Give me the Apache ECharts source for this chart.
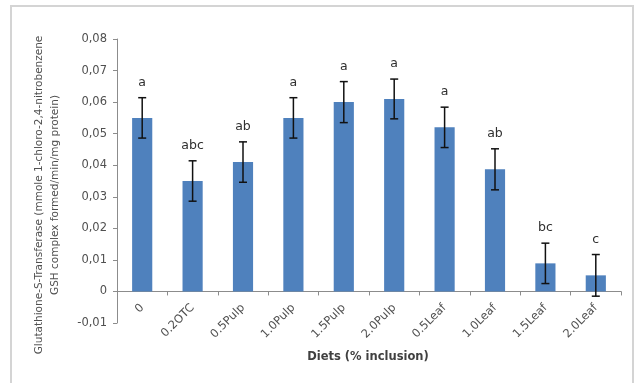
<!DOCTYPE html>
<html><head><meta charset="utf-8">
<script src="https://cdn.jsdelivr.net/npm/echarts@6/dist/echarts.min.js"></script>
<style>html,body{margin:0;padding:0;background:#fff}#frame{position:absolute;left:10px;top:5px;width:624px;height:385px;border:2px solid #d4d4d4;box-sizing:border-box}#c{position:absolute;left:0;top:0;width:639px;height:383px}</style>
</head><body><div id="frame"></div><div id="c"></div>
<script>
const categories = ['0','0.2OTC','0.5Pulp','1.0Pulp','1.5Pulp','2.0Pulp','0.5Leaf','1.0Leaf','1.5Leaf','2.0Leaf'];
const means = [0.055, 0.035, 0.041, 0.055, 0.060, 0.061, 0.052, 0.0387, 0.0089, 0.0051];
const errors = [0.0064, 0.0064, 0.0064, 0.0064, 0.0065, 0.0063, 0.0064, 0.0065, 0.0064, 0.0066];
const letters = ['a','abc','ab','a','a','a','a','ab','bc','c'];
const yTicks = [-0.01, 0, 0.01, 0.02, 0.03, 0.04, 0.05, 0.06, 0.07, 0.08];
const xTitle = 'Diets (% inclusion)';
const yTitle = 'Glutathione-S-Transferase (mmole 1-chloro-2,4-nitrobenzene\nGSH complex formed/min/mg protein)';

const FONT = '"DejaVu Sans", sans-serif';
const chart = echarts.init(document.getElementById('c'));
chart.setOption({
  animation: false,
  backgroundColor: 'transparent',
  grid: {left: 117, right: 18, top: 39, bottom: 60, outerBoundsMode: 'none', containLabel: false},
  xAxis: {
    type: 'category', data: categories,
    axisLine: {onZero: true, lineStyle: {color: '#8c8c8c', width: 1}},
    axisTick: {show: true, length: 4, lineStyle: {color: '#8c8c8c'}},
    axisLabel: {rotate: 45, fontSize: 11.5, color: '#505050', fontFamily: FONT, margin: -17}
  },
  yAxis: {
    type: 'value', min: -0.01, max: 0.08, interval: 0.01,
    splitLine: {show: false},
    axisLine: {show: true, lineStyle: {color: '#8c8c8c'}},
    axisTick: {show: true, length: 4, lineStyle: {color: '#8c8c8c'}},
    axisLabel: {fontSize: 11.5, color: '#505050', fontFamily: FONT, margin: 10,
      formatter: v => {
        const t = yTicks.find(x => Math.abs(x - v) < 1e-9);
        if (t === undefined) return '';
        return t === 0 ? '0' : t.toFixed(2).replace('.', ',');
      }}
  },
  graphic: [{
    type: 'text', x: 47, y: 195, rotation: Math.PI / 2,
    style: {text: yTitle, align: 'center', verticalAlign: 'middle', fontSize: 10.5, lineHeight: 16, fill: '#505050', fontFamily: FONT}
  }, {
    type: 'text', x: 368, y: 357,
    style: {text: xTitle, align: 'center', verticalAlign: 'middle', fontSize: 11.5, fontWeight: 'bold', fill: '#404040', fontFamily: FONT}
  }],
  series: [{
    type: 'bar', data: means, barWidth: '40%',
    itemStyle: {color: '#4F81BD'}
  }, {
    type: 'custom',
    data: means.map((m, i) => [i, m, errors[i]]),
    renderItem: (params, api) => {
      const i = api.value(0), m = api.value(1), e = api.value(2);
      const top = api.coord([i, m + e]);
      const bot = api.coord([i, m - e]);
      const x = top[0], cw = 4;
      return {type: 'group', children: [
        {type: 'line', shape: {x1: x, y1: top[1], x2: x, y2: bot[1]}, style: {stroke: '#111', lineWidth: 1.5}},
        {type: 'line', shape: {x1: x - cw, y1: top[1], x2: x + cw, y2: top[1]}, style: {stroke: '#111', lineWidth: 1.5}},
        {type: 'line', shape: {x1: x - cw, y1: bot[1], x2: x + cw, y2: bot[1]}, style: {stroke: '#111', lineWidth: 1.5}},
        {type: 'text', x: x, y: top[1] - 15, style: {text: letters[params.dataIndex], align: 'center', verticalAlign: 'middle', fontSize: 12.5, fill: '#303030', fontFamily: FONT}}
      ]};
    },
    z: 5
  }]
});
</script></body></html>
